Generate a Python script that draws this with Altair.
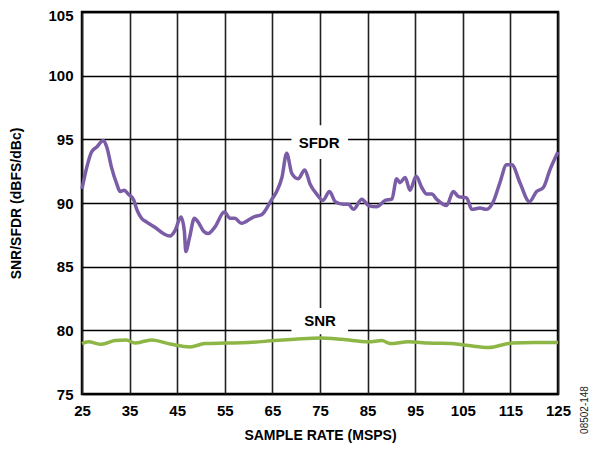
import altair as alt
import pandas as pd

# SFDR curve (MSPS, dBc)
sfdr_x = [25, 26, 27, 28.1, 29.5, 30.2, 31.2, 32.3, 33, 33.9, 34.7, 35.8, 36.5, 37.5, 38.6,
          40.3, 42.1, 43.5, 44.5, 45.8, 46.5, 46.8, 47.6, 48.6, 49.4, 50.5, 51.5, 52.9, 54.9,
          56.1, 57.1, 58.5, 61, 62.8, 64.9, 65.9, 67, 68, 69.1, 70.4, 71.8, 72.9, 74.3, 75.6,
          77, 78.2, 79.9, 81, 82, 83.8, 85.2, 86.9, 88.7, 90.1, 91.1, 91.8, 92.9, 93.9, 95.2,
          96.4, 97.4, 98.5, 99.5, 101.6, 103, 104.1, 105.8, 106.9, 108.6, 110, 111.4, 112.8,
          114.2, 115.3, 117, 119, 120.5, 121.9, 123.3, 125]
sfdr_y = [91.1, 92.8, 94.0, 94.4, 94.9, 94.4, 92.8, 91.5, 90.9, 91.0, 90.7, 90.3, 89.5, 88.8, 88.5,
          88.1, 87.6, 87.4, 87.8, 88.9, 87.8, 86.2, 87.3, 88.8, 88.5, 87.8, 87.6, 88.1, 89.3,
          88.8, 88.8, 88.4, 88.9, 89.1, 90.3, 90.9, 92.0, 93.9, 92.3, 91.9, 92.6, 91.5, 90.7, 90.2,
          90.9, 90.1, 89.9, 89.9, 89.5, 90.3, 89.8, 89.7, 90.2, 90.3, 91.9, 91.6, 92.0, 91.0, 92.1,
          91.2, 90.7, 90.7, 90.3, 89.8, 90.9, 90.5, 90.4, 89.5, 89.6, 89.5, 90.1, 91.6,
          93.0, 93.0, 91.6, 90.1, 90.9, 91.2, 92.6, 94.0]

# SNR curve (MSPS, dBFS)
snr_x = [25, 26.3, 29.1, 31.9, 34.3, 36.1, 39.6, 43.8, 47.7, 50.8, 55, 59.9, 65.5, 69.7, 75,
         79.6, 85.2, 88, 89.7, 93.6, 97.8, 102.7, 106.2, 110.4, 115.3, 120.2, 125]
snr_y = [78.96, 79.1, 78.9, 79.2, 79.25, 79.0, 79.25, 78.9, 78.7, 78.96, 79.0, 79.04, 79.2, 79.3, 79.4,
         79.3, 79.1, 79.2, 78.96, 79.1, 79.0, 78.96, 78.8, 78.65, 79.0, 79.04, 79.04]

# Curve labels
label_text = ["SFDR", "SNR"]
label_x = [74.8, 75.0]
label_y = [94.75, 80.75]
box_x1 = [69.0, 69.0]
box_x2 = [80.9, 80.9]
box_y1 = [93.45, 79.7]
box_y2 = [96.1, 81.75]

x_ticks = list(range(25, 126, 5))
y_ticks = list(range(75, 106, 5))

FONT = "Liberation Sans"
PURPLE = "#7B5CA6"
GREEN = "#8DB646"

sfdr_df = pd.DataFrame({"x": sfdr_x, "y": sfdr_y})
snr_df = pd.DataFrame({"x": snr_x, "y": snr_y})
lab_df = pd.DataFrame({"t": label_text, "x": label_x, "y": label_y,
                       "x1": box_x1, "x2": box_x2, "y1": box_y1, "y2": box_y2})

xs = alt.Scale(domain=[25, 125], nice=False, zero=False)
ys = alt.Scale(domain=[75, 105], nice=False, zero=False)

x_axis = alt.Axis(values=x_ticks, labelExpr="datum.value % 10 == 5 ? datum.label : ''",
                  title="SAMPLE RATE (MSPS)", grid=True, gridColor="#222", gridWidth=1.6,
                  ticks=False, domain=False, labelFontSize=15, labelFontWeight="bold",
                  labelFont=FONT, labelColor="black", labelPadding=9, labelFlush=False,
                  titleFont=FONT, titleFontSize=14, titleFontWeight="bold", titleColor="black",
                  titlePadding=10)
y_axis = alt.Axis(values=y_ticks, title="SNR/SFDR (dBFS/dBc)", grid=True, gridColor="black",
                  gridWidth=1.6, ticks=False, domain=False, labelFontSize=15,
                  labelFontWeight="bold", labelFont=FONT, labelColor="black", labelPadding=9,
                  labelFlush=False,
                  labelOffset={"condition": {"test": "datum.value == 105", "value": 3}, "value": 0},
                  titleFont=FONT, titleFontSize=14, titleFontWeight="bold", titleColor="black",
                  titlePadding=24)

base_sfdr = alt.Chart(sfdr_df).mark_line(color=PURPLE, strokeWidth=3.5, interpolate="monotone").encode(
    x=alt.X("x:Q", scale=xs, axis=x_axis),
    y=alt.Y("y:Q", scale=ys, axis=y_axis),
)
snr_line = alt.Chart(snr_df).mark_line(color=GREEN, strokeWidth=3.5, interpolate="monotone").encode(
    x=alt.X("x:Q", scale=xs), y=alt.Y("y:Q", scale=ys))

boxes = alt.Chart(lab_df).mark_rect(color="white").encode(
    x=alt.X("x1:Q", scale=xs), x2="x2:Q", y=alt.Y("y1:Q", scale=ys), y2="y2:Q")
texts = alt.Chart(lab_df).mark_text(font=FONT, fontSize=15, fontWeight="bold", color="black").encode(
    x=alt.X("x:Q", scale=xs), y=alt.Y("y:Q", scale=ys), text="t:N")

code = alt.Chart(pd.DataFrame({"t": ["08502-148"]})).mark_text(
    font=FONT, fontSize=10, angle=270, color="#222").encode(
    x=alt.value(503), y=alt.value(398), text="t:N")

chart = alt.layer(base_sfdr, snr_line, boxes, texts, code).properties(
    width=476, height=382,
    autosize=alt.AutoSizeParams(type="none"),
    padding={"left": 74, "top": 4, "right": 32, "bottom": 50},
).configure_view(stroke="black", strokeWidth=2.5).configure_axis(gridOpacity=1)

chart.save("out.html", embed_options={"renderer": "svg", "actions": False})
